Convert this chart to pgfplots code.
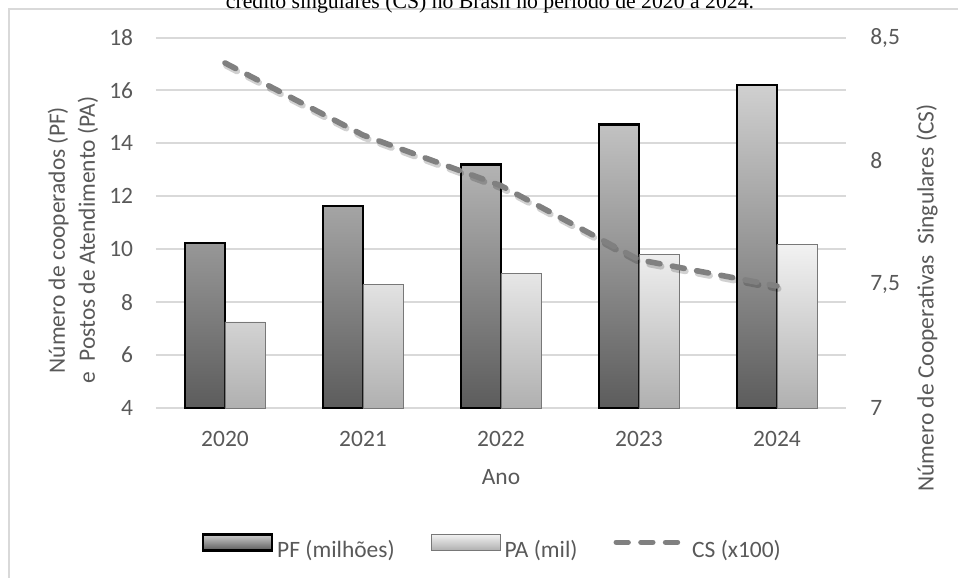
\documentclass[border=0pt]{standalone}
\usepackage{pgfplots}
\pgfplotsset{compat=1.18}
\usepackage{fontspec}
\setmainfont{Carlito}
\newfontfamily\timesf{Liberation Serif}

\definecolor{txt}{RGB}{89,89,89}
\definecolor{grd}{RGB}{217,217,217}
\definecolor{csline}{RGB}{128,128,128}
\definecolor{pftop}{RGB}{208,208,208}
\definecolor{pfbot}{RGB}{92,92,92}
\definecolor{patop}{RGB}{242,242,242}
\definecolor{pabot}{RGB}{176,176,176}
\definecolor{paedge}{RGB}{120,120,120}
\newcommand\chartfont{\fontsize{17.6}{22.5}\selectfont}

\pgfplotsset{
  boxlegend/.style={legend image code/.code={\draw[##1] (0pt,-0.5pt) rectangle (51.75pt,11.5pt);}},
  linelegend/.style={legend image code/.code={
      \draw[##1] (3pt,5.5pt) -- (53pt,5.5pt);
      \path[draw=none] (57pt,5.5pt);}},
}

\begin{document}
\begin{tikzpicture}
% page frame, in pixels of the reference (y downwards)
\begin{scope}[x=0.75pt,y=-0.75pt]
  \useasboundingbox (0,0) rectangle (958,578);
  \draw[grd, line width=1.2pt] (9,600) -- (9,9) -- (990,9);
  \node[anchor=base, inner sep=0pt, font={\timesf\fontsize{16.3}{19}\selectfont}]
    at (490,8) {crédito singulares (CS) no Brasil no período de 2020 a 2024.};
\end{scope}

% left axis: bars
\begin{axis}[
  at={(117pt,-306pt)}, anchor=south west,
  scale only axis, width=517.5pt, height=277.875pt,
  xmin=-0.5, xmax=4.5, ymin=4, ymax=18,
  xtick={0,...,4}, xticklabels={2020,2021,2022,2023,2024},
  ytick={4,6,...,18},
  axis line style={draw=none},
  major tick length=0pt,
  ymajorgrids, grid style={grd, line width=1.5pt},
  ybar=0pt, bar width=30pt,
  tick label style={font=\chartfont, text=txt, inner sep=0pt},
  /pgf/number format/assume math mode=true,
  yticklabel style={anchor=east}, yticklabel shift=17pt,
  xticklabel style={anchor=north}, xticklabel shift=17pt,
  xlabel={Ano},
  every axis x label/.style={at={(axis description cs:0.5,-0.186)}, anchor=center, font=\chartfont, text=txt},
  ylabel={Número de cooperados (PF)\\e\ \ Postos de Atendimento (PA)},
  every axis y label/.style={at={(axis description cs:-0.1203,0.453)}, rotate=90, anchor=center, align=center, font=\chartfont, text=txt},
  legend columns=3,
  legend cell align=left,
  legend style={at={(axis description cs:0.4887,-0.378)}, anchor=center,
    draw=none, fill=none, font=\chartfont, text=txt, inner sep=0pt,
    nodes={inner sep=3pt},
    /tikz/every even column/.append style={column sep=24pt}},
]
\addplot[draw=black, line width=2pt, top color=pftop, bottom color=pfbot, boxlegend]
  coordinates {(0,10.24) (1,11.63) (2,13.20) (3,14.72) (4,16.21)};
\addlegendentry{PF (milhões)}
\addplot[draw=paedge, line width=0.6pt, top color=patop, bottom color=pabot, boxlegend]
  coordinates {(0,7.25) (1,8.66) (2,9.08) (3,9.79) (4,10.17)};
\addlegendentry{PA (mil)}
\addlegendimage{csline, line width=4pt, line cap=round, dash pattern=on 9pt off 9.5pt, linelegend}
\addlegendentry{CS (x100)}
\end{axis}

% right axis: CS line
\begin{axis}[
  at={(117pt,-306pt)}, anchor=south west,
  scale only axis, width=517.5pt, height=277.875pt,
  xmin=-0.5, xmax=4.5, ymin=7, ymax=8.5,
  axis x line=none, axis y line*=right,
  axis line style={draw=none},
  ytick={7,7.5,8,8.5}, major tick length=0pt,
  yticklabel style={anchor=west, inner sep=0pt, font=\chartfont, text=txt,
    /pgf/number format/.cd, fixed, use comma, assume math mode=true},
  yticklabel shift=18pt,
  ylabel={Número de Cooperativas\ \ Singulares (CS)},
  every axis y label/.style={at={(axis description cs:1.1174,0.297)}, rotate=90, anchor=center, font=\chartfont, text=txt},
]
\addplot[black, opacity=0.18, line width=4.8pt, line cap=round, dash pattern=on 9pt off 9.5pt,
  transform canvas={xshift=1pt, yshift=-2pt}, forget plot]
  coordinates {(0,8.397) (1,8.105) (2,7.90) (3,7.60) (4,7.494)};
\addplot[csline, line width=4.2pt, line cap=round, dash pattern=on 9pt off 9.5pt]
  coordinates {(0,8.397) (1,8.105) (2,7.90) (3,7.60) (4,7.494)};
\end{axis}
\end{tikzpicture}
\end{document}
